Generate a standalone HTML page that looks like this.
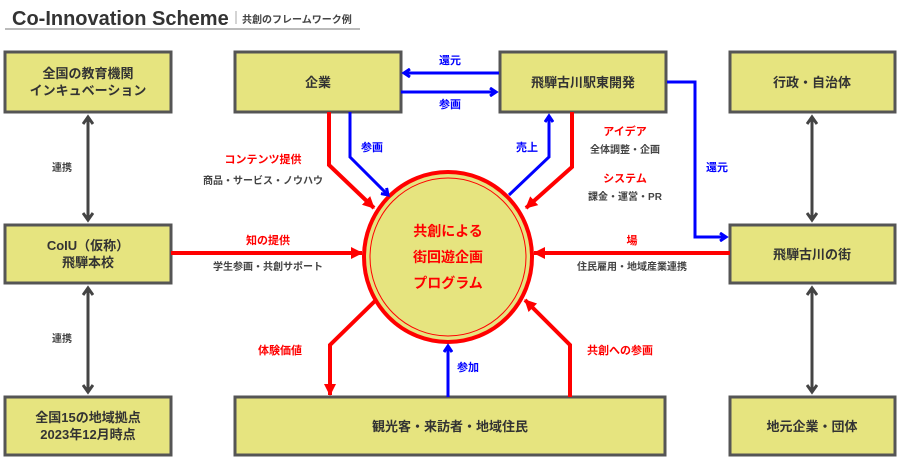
<!DOCTYPE html>
<html><head><meta charset="utf-8"><style>
body{margin:0;background:#fff;}
svg text{font-family:"Liberation Sans","Noto Sans CJK JP",sans-serif;font-weight:bold;}
</style></head><body>
<svg width="898" height="457" viewBox="0 0 898 457" xmlns="http://www.w3.org/2000/svg">
<defs>
<marker id="ab" markerWidth="10" markerHeight="10" refX="7" refY="5" orient="auto" markerUnits="userSpaceOnUse"><path d="M1,1 L7,5 L1,9" fill="none" stroke="#00f" stroke-width="3"/></marker>
<marker id="ar" markerWidth="14" markerHeight="14" refX="11" refY="7" orient="auto" markerUnits="userSpaceOnUse"><path d="M0,1 L12,7 L0,13 Z" fill="#f00"/></marker>
<marker id="ag" markerWidth="12" markerHeight="12" refX="8" refY="6" orient="auto" markerUnits="userSpaceOnUse"><path d="M1,1 L8,6 L1,11" fill="none" stroke="#444" stroke-width="3"/></marker>
<marker id="ags" markerWidth="12" markerHeight="12" refX="4" refY="6" orient="auto" markerUnits="userSpaceOnUse"><path d="M11,1 L4,6 L11,11" fill="none" stroke="#444" stroke-width="3"/></marker>
</defs>
<text x="12" y="25" font-size="20" fill="#333">Co-Innovation Scheme</text>
<line x1="236" y1="11" x2="236" y2="24" stroke="#aaa" stroke-width="1"/>
<text x="242" y="23" font-size="10" fill="#444">共創のフレームワーク例</text>
<line x1="5" y1="29" x2="360" y2="29" stroke="#bbb" stroke-width="2"/>
<g fill="#e6e47f" stroke="#555" stroke-width="3">
<rect x="5" y="52" width="166" height="60"/>
<rect x="235" y="52" width="166" height="60"/>
<rect x="500" y="52" width="166" height="60"/>
<rect x="730" y="52" width="165" height="60"/>
<rect x="5" y="225" width="166" height="58"/>
<rect x="730" y="225" width="165" height="58"/>
<rect x="5" y="397" width="166" height="58"/>
<rect x="235" y="397" width="430" height="58"/>
<rect x="730" y="397" width="165" height="58"/>
</g>
<g font-size="13" fill="#333" text-anchor="middle">
<text x="88" y="78">全国の教育機関</text>
<text x="88" y="95">インキュベーション</text>
<text x="318" y="87">企業</text>
<text x="583" y="87">飛騨古川駅東開発</text>
<text x="812" y="87">行政・自治体</text>
<text x="88" y="250">CoIU（仮称）</text>
<text x="88" y="267">飛騨本校</text>
<text x="812" y="259">飛騨古川の街</text>
<text x="88" y="422">全国15の地域拠点</text>
<text x="88" y="439">2023年12月時点</text>
<text x="450" y="431">観光客・来訪者・地域住民</text>
<text x="812" y="431">地元企業・団体</text>
</g>
<ellipse cx="448" cy="257" rx="84" ry="85" fill="#e6e47f" stroke="#f00" stroke-width="4"/>
<ellipse cx="448" cy="257" rx="78" ry="79" fill="none" stroke="#f00" stroke-width="1"/>
<g font-size="14" fill="#f00" text-anchor="middle">
<text x="448" y="236">共創による</text>
<text x="448" y="262">街回遊企画</text>
<text x="448" y="288">プログラム</text>
</g>
<g stroke="#444" stroke-width="3" fill="none">
<line x1="88" y1="117" x2="88" y2="220" marker-end="url(#ag)" marker-start="url(#ags)"/>
<line x1="88" y1="288" x2="88" y2="392" marker-end="url(#ag)" marker-start="url(#ags)"/>
<line x1="812" y1="117" x2="812" y2="220" marker-end="url(#ag)" marker-start="url(#ags)"/>
<line x1="812" y1="288" x2="812" y2="392" marker-end="url(#ag)" marker-start="url(#ags)"/>
</g>
<g stroke="#00f" stroke-width="3" fill="none">
<line x1="499" y1="73" x2="404" y2="73" marker-end="url(#ab)"/>
<line x1="401" y1="92" x2="496" y2="92" marker-end="url(#ab)"/>
<polyline points="350,112 350,157 388,195" marker-end="url(#ab)"/>
<polyline points="509,195 549,157 549,116" marker-end="url(#ab)"/>
<polyline points="667,82 695,82 695,237 726,237" marker-end="url(#ab)"/>
<line x1="448" y1="397" x2="448" y2="346" marker-end="url(#ab)"/>
</g>
<g stroke="#f00" stroke-width="4" fill="none">
<polyline points="329,112 329,165 374,208" marker-end="url(#ar)"/>
<polyline points="572,112 572,167 526,208" marker-end="url(#ar)"/>
<line x1="171" y1="253" x2="362" y2="253" marker-end="url(#ar)"/>
<line x1="730" y1="253" x2="534" y2="253" marker-end="url(#ar)"/>
<polyline points="376,300 330,345 330,395" marker-end="url(#ar)"/>
<polyline points="570,397 570,345 525,300" marker-end="url(#ar)"/>
</g>
<g font-size="11" text-anchor="middle">
<text x="450" y="64" fill="#00f">還元</text>
<text x="450" y="108" fill="#00f">参画</text>
<text x="372" y="151" fill="#00f">参画</text>
<text x="527" y="151" fill="#00f">売上</text>
<text x="717" y="171" fill="#00f">還元</text>
<text x="468" y="371" fill="#00f">参加</text>
<text x="263" y="163" fill="#f00">コンテンツ提供</text>
<text x="263" y="184" fill="#444" font-size="10">商品・サービス・ノウハウ</text>
<text x="625" y="135" fill="#f00">アイデア</text>
<text x="625" y="153" fill="#444" font-size="10">全体調整・企画</text>
<text x="625" y="182" fill="#f00">システム</text>
<text x="625" y="200" fill="#444" font-size="10">課金・運営・PR</text>
<text x="268" y="244" fill="#f00">知の提供</text>
<text x="268" y="270" fill="#444" font-size="10">学生参画・共創サポート</text>
<text x="632" y="244" fill="#f00">場</text>
<text x="632" y="270" fill="#444" font-size="10">住民雇用・地域産業連携</text>
<text x="280" y="354" fill="#f00">体験価値</text>
<text x="620" y="354" fill="#f00">共創への参画</text>
<text x="62" y="171" fill="#444" font-size="10">連携</text>
<text x="62" y="342" fill="#444" font-size="10">連携</text>
</g>
</svg>
</body></html>
